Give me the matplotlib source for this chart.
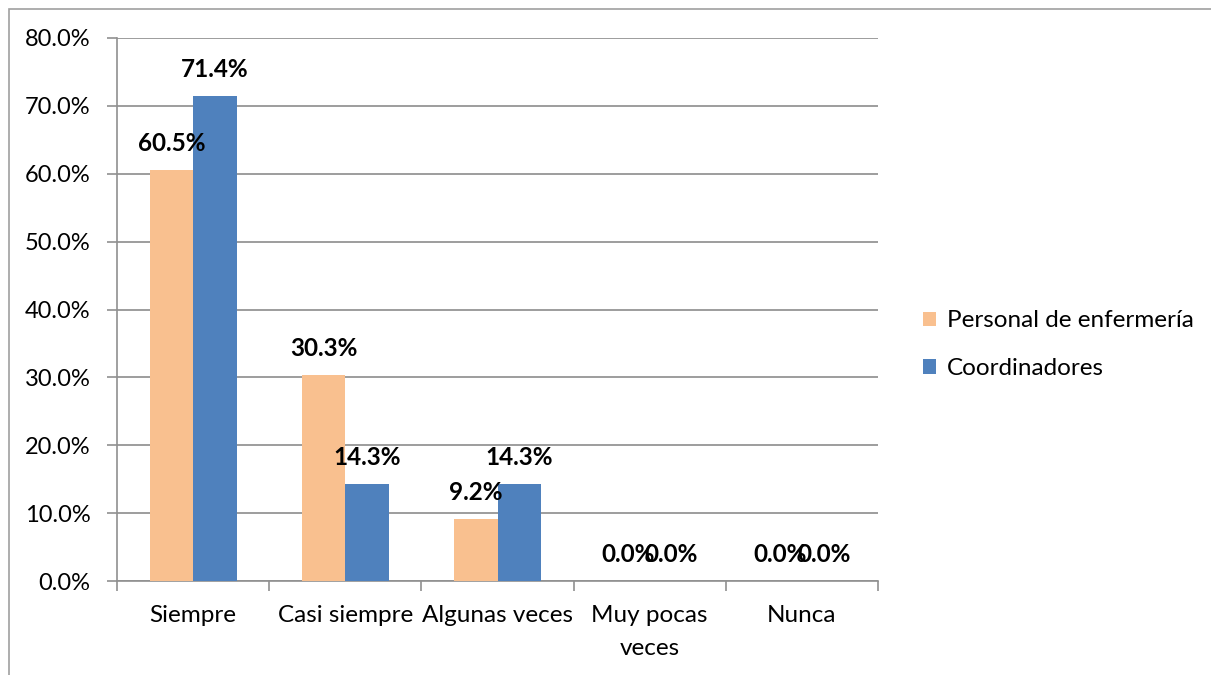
import matplotlib.pyplot as plt
import numpy as np
from matplotlib.patches import Rectangle

categories = ["Siempre", "Casi siempre", "Algunas veces", "Muy pocas\nveces", "Nunca"]
enfermeria = [60.5, 30.3, 9.2, 0.0, 0.0]
coordinadores = [71.4, 14.3, 14.3, 0.0, 0.0]
series_names = ["Personal de enfermería", "Coordinadores"]
colors = ["#F9C08F", "#4F81BD"]

plt.rcParams['font.family'] = ['Lato', 'DejaVu Sans']


def main():
    fig = plt.figure(figsize=(12.11, 6.75), dpi=100)
    ax = fig.add_axes([117 / 1211, 1 - 581 / 675, (878 - 117) / 1211, (581 - 38) / 675])

    # outer frame like the original chart area
    fig.patches.append(Rectangle((8.5 / 1211, -0.1), 1.2, 1 - 8.5 / 675 + 0.1,
                                 transform=fig.transFigure, fill=False,
                                 edgecolor="#A0A0A0", linewidth=1.2))

    x = np.arange(len(categories))
    w = 0.286
    b1 = ax.bar(x - w / 2, enfermeria, w, color=colors[0], label=series_names[0], zorder=3)
    b2 = ax.bar(x + w / 2, coordinadores, w, color=colors[1], label=series_names[1], zorder=3)

    # the 0.0% labels overlap in the original too
    for bars in (b1, b2):
        for r in bars:
            h = r.get_height()
            ax.annotate("{:.1f}%".format(h), (r.get_x() + r.get_width() / 2, h),
                        xytext=(0, 19), textcoords="offset points",
                        ha="center", va="center", fontsize=17.5, fontweight="bold", zorder=4)

    ax.set_xlim(-0.5, len(categories) - 0.5)
    ax.set_ylim(0, 80)
    ax.set_yticks(np.arange(0, 81, 10))
    ax.set_yticklabels(["{:.1f}%".format(v) for v in np.arange(0, 81, 10)], fontsize=17)
    ax.set_xticks(x)
    ax.set_xticklabels(categories, fontsize=17.5, linespacing=1.7)
    ax.set_xticks(np.arange(-0.5, len(categories)), minor=True)
    ax.tick_params(axis="x", which="major", length=0, pad=17)
    ax.tick_params(axis="x", which="minor", length=7, color="#909090", width=1.2)
    ax.tick_params(axis="y", length=7, color="#909090", width=1.2, pad=12)

    ax.grid(axis="y", color="#8C8C8C", linewidth=1.2, zorder=0)
    for s in ("top", "right"):
        ax.spines[s].set_visible(False)
    for s in ("left", "bottom"):
        ax.spines[s].set_color("#909090")
        ax.spines[s].set_linewidth(1.2)

    ax.legend(loc="center left", bbox_to_anchor=(1.03, 0.435), frameon=False,
              fontsize=17.5, handlelength=0.55, handleheight=0.55, labelspacing=1.1,
              handletextpad=0.45)

    fig.savefig("out.png", dpi=100)


if __name__ == '__main__':
    main()
